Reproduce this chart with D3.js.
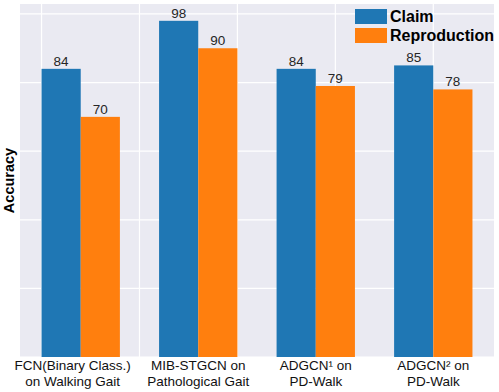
<!DOCTYPE html>
<html>
<head>
<meta charset="utf-8">
<script src="https://cdn.jsdelivr.net/npm/d3@7"></script>
<style>
    body { margin: 0; background: #fff; }
    text { font-family: "Liberation Sans", Arial, sans-serif; }
</style>
</head>
<body>
<div id="chart"></div>
<script>
/* jshint esversion:6 */

// data
const categories  = [
    ['FCN(Binary Class.)', 'on Walking Gait'],
    ['MIB-STGCN on', 'Pathological Gait'],
    ['ADGCN\u00B9 on', 'PD-Walk'],
    ['ADGCN\u00B2 on', 'PD-Walk']
];
const claim        = [84, 98, 84, 85];
const reproduction = [70, 90, 79, 78];
const seriesNames  = ['Claim', 'Reproduction'];
const yTicks       = [0, 20, 40, 60, 80, 100];

// setup
const width  = 499,
      height = 392,
      margin = { top: 4, right: 5, bottom: 35, left: 20 },
      barW   = 1 / 3;

const colors = ['#1f77b4', '#ff7f0e'];

const svg = d3.select('#chart')
    .append('svg')
      .attr('width',  width)
      .attr('height', height);

// x is numeric: group i sits at i, blue left of it, orange right of it
const xMin = -barW, xMax = categories.length - 1 + barW,
      pad  = (xMax - xMin) * 0.05;

const x = d3.scaleLinear()
    .domain([xMin - pad, xMax + pad])
    .range([margin.left, width - margin.right]);

const yMax = d3.max(claim.concat(reproduction)) * 1.05;

const y = d3.scaleLinear()
    .domain([0, yMax])
    .range([height - margin.bottom, margin.top]);

// background
svg.append('rect')
    .attr('x', x.range()[0])
    .attr('y', y.range()[1])
    .attr('width',  x.range()[1] - x.range()[0])
    .attr('height', y.range()[0] - y.range()[1])
    .style('fill', '#eaeaf2');

// grid lines
svg.selectAll('.hgrid')
    .data(yTicks)
    .enter()
    .append('line')
      .attr('class', 'hgrid')
      .attr('x1', x.range()[0])
      .attr('x2', x.range()[1])
      .attr('y1', d => y(d))
      .attr('y2', d => y(d))
      .style('stroke', '#fff')
      .style('stroke-width', 1.2);

// vertical grid sits on 5 evenly spaced ticks, not on the groups
const xTicks = d3.range(5).map(i => xMin + i * (categories.length - 1 - xMin) / 4);

svg.selectAll('.vgrid')
    .data(xTicks)
    .enter()
    .append('line')
      .attr('class', 'vgrid')
      .attr('x1', d => x(d))
      .attr('x2', d => x(d))
      .attr('y1', y.range()[0])
      .attr('y2', y.range()[1])
      .style('stroke', '#fff')
      .style('stroke-width', 1.2);

// bars
const series = [claim, reproduction];

series.forEach((vals, s) => {
    const off = s === 0 ? -barW : 0;

    svg.selectAll('.bar' + s)
        .data(vals)
        .enter()
        .append('rect')
          .attr('class', 'bar' + s)
          .attr('x', (d, i) => x(i + off))
          .attr('y', d => y(d))
          .attr('width', x(barW) - x(0))
          .attr('height', d => y(0) - y(d))
          .style('fill', colors[s]);

    svg.selectAll('.val' + s)
        .data(vals)
        .enter()
        .append('text')
          .attr('class', 'val' + s)
          .attr('x', (d, i) => x(i + off + barW / 2))
          .attr('y', d => y(d) - 3)
          .attr('text-anchor', 'middle')
          .style('font-size', '13.5px')
          .style('fill', '#262626')
          .text(d => d);
});

// category labels
const xl = svg.selectAll('.xlab')
    .data(categories)
    .enter()
    .append('text')
      .attr('class', 'xlab')
      .attr('text-anchor', 'middle')
      .attr('transform', (d, i) => `translate(${x(i) - (i === 0 ? 8 : 0)}, ${y(0) + 13})`)
      .style('font-size', '13.5px')
      .style('fill', '#111');

xl.selectAll('tspan')
    .data(d => d)
    .enter()
    .append('tspan')
      .attr('x', 0)
      .attr('dy', (d, i) => i === 0 ? 0 : 15.5)
      .text(d => d);

// y axis title
svg.append('text')
    .attr('transform', `translate(14, ${(y.range()[0] + y.range()[1]) / 2}) rotate(-90)`)
    .attr('text-anchor', 'middle')
    .style('font-size', '14.5px')
    .style('font-weight', 'bold')
    .text('Accuracy');

// legend
const legend = svg.selectAll('.legend')
    .data(seriesNames)
    .enter()
    .append('g')
      .attr('class', 'legend')
      .attr('transform', (d, i) => `translate(355, ${9 + i * 19})`);

legend.append('rect')
    .attr('width',  32)
    .attr('height', 15)
    .style('fill', (d, i) => colors[i]);

legend.append('text')
    .attr('x', 35)
    .attr('y', 13)
    .style('font-size', '16px')
    .style('font-weight', 'bold')
    .text(d => d);
</script>
</body>
</html>
